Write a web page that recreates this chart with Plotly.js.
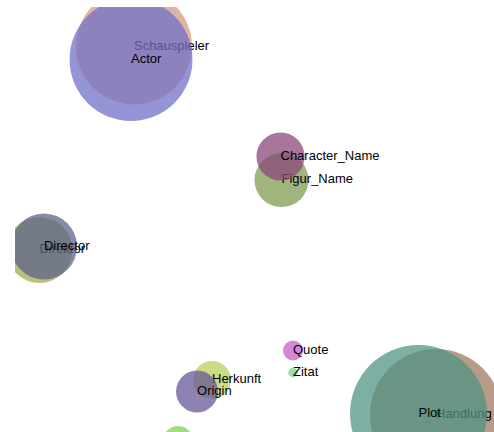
<!DOCTYPE html>
<html>
<head>
<meta charset="utf-8">
<script src="https://cdn.plot.ly/plotly-3.0.1.min.js"></script>
<style>html,body{margin:0;padding:0;background:#fff;}#chart{width:494px;height:432px;}</style>
</head>
<body>
<div id="chart"></div>
<script>
// German terms
var deLabels = ["Schauspieler", "Figur_Name", "Direktor", "Zitat", "Herkunft", "Handlung"];
var deX = [-2.516, 0.564, -4.489, 0.804, -0.887, 3.789];
var deY = [4.071, 0.929, -0.718, -3.600, -3.776, -4.600];
var deCount = [336, 73, 109, 2.2, 36, 436];
var deColors = ["#d59a80", "#7f9a50", "#a8a850", "#7fcf7f", "#bccf5a", "#9c7a5f"];

// English terms
var enLabels = ["Actor", "Character_Name", "Director", "Quote", "Origin", "Plot", ""];
var enX = [-2.578, 0.543, -4.395, 0.804, -1.200, 3.424, -1.597];
var enY = [3.765, 1.482, -0.635, -3.082, -4.047, -4.565, -5.212];
var enCount = [378, 58, 109, 10, 44, 469, 22.5];
var enColors = ["#7070c8", "#8a4678", "#5a6488", "#c85fc8", "#66579a", "#4f9384", "#7fcf5a"];

function bubbles(x, y, s, c) {
  return {
    type: "scatter", mode: "markers", x: x, y: y, hoverinfo: "skip",
    marker: {size: s, sizemode: "area", sizeref: 0.05, color: c, opacity: 0.74, line: {width: 0}}
  };
}
function labels(x, y, t) {
  return {
    type: "scatter", mode: "text", x: x, y: y, text: t, hoverinfo: "skip",
    textposition: "middle right",
    textfont: {family: "Liberation Sans, Arial, sans-serif", size: 13, color: "#000"}
  };
}

var data = [
  bubbles(deX, deY, deCount, deColors),
  labels(deX, deY, deLabels),
  bubbles(enX, enY, enCount, enColors),
  labels(enX, enY, enLabels)
];

var axisOff = {range: [-5, 5], visible: false, showgrid: false, zeroline: false, fixedrange: true};
var layout = {
  width: 494, height: 432,
  margin: {l: 15, r: 0, t: 7, b: 0},
  paper_bgcolor: "#fff", plot_bgcolor: "#fff",
  showlegend: false,
  xaxis: Object.assign({}, axisOff),
  yaxis: Object.assign({}, axisOff)
};
Plotly.newPlot("chart", data, layout, {staticPlot: true});
</script>
</body>
</html>
